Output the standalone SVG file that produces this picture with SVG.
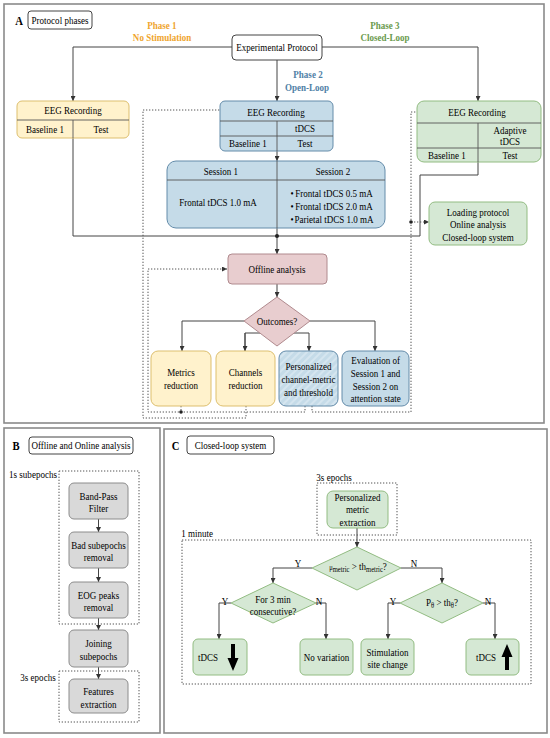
<svg xmlns="http://www.w3.org/2000/svg" width="550" height="738" viewBox="0 0 550 738">
<style>
text { font-family: "Liberation Serif", "Times New Roman", serif; font-size: 11px; fill: #000; text-anchor: middle; transform-box: fill-box; transform-origin: center; transform: scaleX(0.82); }
.b { font-weight: bold; font-size: 13px; }
.p1 { font-weight: bold; fill: #EFA52E; }
.p2 { font-weight: bold; fill: #4F7FA6; }
.p3 { font-weight: bold; fill: #6A9A4E; }
.panel { fill: #fff; stroke: #8a8a8a; stroke-width: 1.6; }
.lbl { fill: #fff; stroke: #444; stroke-width: 1; }
.yel { fill: #FFF2CC; stroke: #DDBF6E; stroke-width: 1; }
.blu { fill: #C5DBE8; stroke: #648CAA; stroke-width: 1; }
.grn { fill: #D5E8D4; stroke: #92BC82; stroke-width: 1; }
.pnk { fill: #E8CDCF; stroke: #B08A8E; stroke-width: 1; }
.gry { fill: #D9D9D9; stroke: #8C8C8C; stroke-width: 1; }
.sep { fill: none; stroke: #555; stroke-width: 0.9; }
.ln { fill: none; stroke: #444; stroke-width: 1; }
.dot { fill: none; stroke: #555; stroke-width: 1; stroke-dasharray: 1.3 1.7; }
</style>
<defs>
<marker id="ah" viewBox="0 0 6 6" refX="6" refY="3" markerWidth="5" markerHeight="5" markerUnits="userSpaceOnUse" orient="auto">
<path d="M0,0 L6,3 L0,6 z" fill="#333"/>
</marker>
<pattern id="hatch" width="5" height="5" patternUnits="userSpaceOnUse" patternTransform="rotate(45)">
<rect width="5" height="5" fill="#C5DBE8"/>
<line x1="1" y1="0" x2="1" y2="5" stroke="#DCEAF3" stroke-width="1.4"/>
</pattern>
</defs>

<!-- Panels -->
<rect class="panel" x="4" y="4" width="540" height="419"/>
<rect class="panel" x="4" y="428" width="156" height="305"/>
<rect class="panel" x="164" y="429" width="383" height="304"/>

<!-- Panel A header -->
<g id="panelA-label">
<text class="b" x="19" y="25">A</text>
<rect class="lbl" x="28" y="11" width="64" height="18" rx="3"/>
<text x="60" y="23.8">Protocol phases</text>
</g>
<g id="phase-labels">
<text class="p1" x="162" y="29.5">Phase 1</text>
<text class="p1" x="162" y="41.5">No Stimulation</text>
<text class="p2" x="308" y="78.5">Phase 2</text>
<text class="p2" x="307" y="91.5">Open-Loop</text>
<text class="p3" x="385" y="29.5">Phase 3</text>
<text class="p3" x="385" y="41.5">Closed-Loop</text>
</g>

<!-- Connectors -->
<g id="connectors">
<path class="ln" d="M232,47 H73 V101" marker-end="url(#ah)"/>
<path class="ln" d="M322,47 H478 V101" marker-end="url(#ah)"/>
<path class="ln" d="M277,60 V101" marker-end="url(#ah)"/>
<path class="ln" d="M277,151 V161" marker-end="url(#ah)"/>
<path class="ln" d="M73,138 V236 H420 V175 H478 V162"/>
<path class="ln" d="M277,228 V254" marker-end="url(#ah)"/>
<circle cx="277" cy="236" r="2" fill="#222"/>
<path class="ln" d="M277,284 V297" marker-end="url(#ah)"/>
<path class="ln" d="M244,321 H182 V351" marker-end="url(#ah)"/>
<path class="ln" d="M310,321 H375 V351" marker-end="url(#ah)"/>
<path class="ln" d="M245,351 V333 H309 V351" marker-end="url(#ah)"/>
<path class="ln" d="M245,333 V351" marker-end="url(#ah)"/>
<!-- dotted feedback -->
<path class="dot" d="M246,406 V418 H143 V110 H243" marker-end="url(#ah)"/>
<path class="dot" d="M305,406 V412 H148 V269 H227" marker-end="url(#ah)"/>
<path class="dot" d="M181,406 V412"/>
<circle cx="181" cy="412" r="1.8" fill="#222"/>
<path class="dot" d="M312,406 V412 H411 V112 H445" marker-end="url(#ah)"/>
<path class="dot" d="M411,222 H429" marker-end="url(#ah)"/>
<circle cx="411" cy="222" r="1.8" fill="#222"/>
<!-- panel B -->
<path class="ln" d="M98.5,519 V532" marker-end="url(#ah)"/>
<path class="ln" d="M98.5,568 V582" marker-end="url(#ah)"/>
<path class="ln" d="M98.5,618 V630" marker-end="url(#ah)"/>
<path class="ln" d="M98.5,667 V679" marker-end="url(#ah)"/>
<!-- panel C -->
<path class="ln" d="M357,528 V547" marker-end="url(#ah)"/>
<path class="ln" d="M312,568 H273 V583" marker-end="url(#ah)"/>
<path class="ln" d="M401,568 H442 V583" marker-end="url(#ah)"/>
<path class="ln" d="M231,603 H219 V639" marker-end="url(#ah)"/>
<path class="ln" d="M316,603 H326 V639" marker-end="url(#ah)"/>
<path class="ln" d="M400,603 H388 V639" marker-end="url(#ah)"/>
<path class="ln" d="M483,603 H495 V639" marker-end="url(#ah)"/>
</g>

<!-- Panel A nodes -->
<g id="exp-protocol">
<rect x="232" y="35" width="90" height="25" rx="4" fill="#fff" stroke="#444"/>
<text x="277" y="51.4">Experimental Protocol</text>
</g>
<g id="eeg-phase1">
<rect class="yel" x="17" y="101" width="112" height="37" rx="5"/>
<path class="sep" d="M17,120 H129 M73,120 V138"/>
<text x="73" y="114.2">EEG Recording</text>
<text x="45" y="132.8">Baseline 1</text>
<text x="101" y="132.8">Test</text>
</g>
<g id="eeg-phase2">
<rect class="blu" x="220" y="101" width="113" height="50" rx="5"/>
<path class="sep" d="M220,121 H333 M220,136 H333 M277,121 V151"/>
<text x="276" y="115.6">EEG Recording</text>
<text x="305" y="132.2">tDCS</text>
<text x="248" y="147.2">Baseline 1</text>
<text x="305" y="147.2">Test</text>
</g>
<g id="sessions">
<rect class="blu" x="167" y="161" width="218" height="67" rx="9"/>
<path class="sep" d="M167,180 H385 M277,161 V228"/>
<text x="221" y="174.6">Session 1</text>
<text x="333" y="174.6">Session 2</text>
<text x="218" y="205.8">Frontal tDCS 1.0 mA</text>
<text x="292" y="196.8">•</text>
<text x="292" y="209.8">•</text>
<text x="292" y="222.8">•</text>
<text x="334" y="196.8">Frontal tDCS 0.5 mA</text>
<text x="334" y="209.8">Frontal tDCS 2.0 mA</text>
<text x="334" y="222.8">Parietal tDCS 1.0 mA</text>
</g>
<g id="eeg-phase3">
<rect class="grn" x="417" y="101" width="124" height="61" rx="7"/>
<path class="sep" d="M417,123 H541 M417,148 H541 M478,123 V162"/>
<text x="477" y="116.4">EEG Recording</text>
<text x="510" y="133.8">Adaptive</text>
<text x="510" y="145.5">tDCS</text>
<text x="447" y="158.8">Baseline 1</text>
<text x="510" y="158.8">Test</text>
</g>
<g id="loading-protocol">
<rect class="grn" x="429" y="202" width="98" height="43" rx="6"/>
<text x="478" y="215.8">Loading protocol</text>
<text x="478" y="228.2">Online analysis</text>
<text x="478" y="240.6">Closed-loop system</text>
</g>
<g id="offline-analysis">
<rect class="pnk" x="228" y="254" width="99" height="30" rx="4"/>
<text x="277" y="272.8">Offline analysis</text>
</g>
<g id="outcomes">
<polygon class="pnk" points="277,297 310,321 277,346 244,321"/>
<text x="277" y="324.8">Outcomes?</text>
</g>
<g id="metrics-reduction">
<rect class="yel" x="151" y="351" width="60" height="55" rx="7"/>
<text x="181" y="376.2">Metrics</text>
<text x="181" y="389.2">reduction</text>
</g>
<g id="channels-reduction">
<rect class="yel" x="216" y="351" width="59" height="55" rx="7"/>
<text x="245.5" y="376.2">Channels</text>
<text x="245.5" y="389.2">reduction</text>
</g>
<g id="personalized">
<rect x="279" y="351" width="59" height="55" rx="7" fill="url(#hatch)" stroke="#648CAA"/>
<text x="308.5" y="370.2">Personalized</text>
<text x="308.5" y="383.2">channel-metric</text>
<text x="308.5" y="396.2">and threshold</text>
</g>
<g id="evaluation">
<rect class="blu" x="342" y="351" width="67" height="55" rx="7"/>
<text x="375.5" y="363.6">Evaluation of</text>
<text x="375.5" y="376.6">Session 1 and</text>
<text x="375.5" y="389.6">Session 2 on</text>
<text x="375.5" y="402.2">attention state</text>
</g>

<!-- Panel B -->
<g id="panelB-label">
<text class="b" x="16" y="450">B</text>
<rect class="lbl" x="29" y="437" width="104" height="17" rx="3"/>
<text x="81" y="449.2">Offline and Online analysis</text>
</g>
<g id="subepochs-group">
<rect class="dot" x="59" y="471" width="80" height="153"/>
<text x="33" y="477.6">1s subepochs</text>
</g>
<g id="epochs-group-B">
<rect class="dot" x="59" y="671" width="80" height="51"/>
<text x="38" y="680.8">3s epochs</text>
</g>
<g id="band-pass">
<rect class="gry" x="69" y="483" width="59" height="36" rx="5"/>
<text x="98.5" y="499.8">Band-Pass</text>
<text x="98.5" y="512.2">Filter</text>
</g>
<g id="bad-subepochs">
<rect class="gry" x="69" y="532" width="59" height="36" rx="5"/>
<text x="98.5" y="548.8">Bad subepochs</text>
<text x="98.5" y="561.2">removal</text>
</g>
<g id="eog-peaks">
<rect class="gry" x="69" y="582" width="59" height="36" rx="5"/>
<text x="98.5" y="598.8">EOG peaks</text>
<text x="98.5" y="611.2">removal</text>
</g>
<g id="joining">
<rect class="gry" x="69" y="630" width="59" height="37" rx="5"/>
<text x="98.5" y="646.8">Joining</text>
<text x="98.5" y="660.2">subepochs</text>
</g>
<g id="features">
<rect class="gry" x="69" y="679" width="59" height="34" rx="5"/>
<text x="98.5" y="694.8">Features</text>
<text x="98.5" y="707.8">extraction</text>
</g>

<!-- Panel C -->
<g id="panelC-label">
<text class="b" x="175.5" y="450">C</text>
<rect class="lbl" x="187" y="436" width="87" height="18" rx="3"/>
<text x="230.5" y="449.2">Closed-loop system</text>
</g>
<g id="epochs-group-C">
<rect class="dot" x="317" y="483" width="80" height="52"/>
<text x="334" y="480.8">3s epochs</text>
</g>
<g id="minute-group">
<rect class="dot" x="182" y="540" width="349" height="144"/>
<text x="197" y="536.8">1 minute</text>
</g>
<g id="metric-extraction">
<rect class="grn" x="327" y="491" width="61" height="37" rx="6"/>
<text x="357.5" y="500.8">Personalized</text>
<text x="357.5" y="513.2">metric</text>
<text x="357.5" y="525.6">extraction</text>
</g>
<g id="decision-metric">
<polygon class="grn" points="357,547 401,568 357,590 312,568"/>
<text x="358" y="570"><tspan font-size="8">μ</tspan><tspan font-size="8" dy="2">metric</tspan><tspan dy="-2"> &gt; th</tspan><tspan font-size="8" dy="2">metric</tspan><tspan dy="-2">?</tspan></text>
<text x="298" y="566.8">Y</text>
<text x="414" y="566.8">N</text>
</g>
<g id="decision-consecutive">
<polygon class="grn" points="273,583 316,603 273,623 231,603"/>
<text x="273" y="602.6">For 3 min</text>
<text x="273" y="615.2">consecutive?</text>
<text x="225" y="604.8">Y</text>
<text x="319" y="604.8">N</text>
</g>
<g id="decision-theta">
<polygon class="grn" points="442,583 483,603 442,623 400,603"/>
<text x="442" y="606">P<tspan font-size="8" dy="2">θ</tspan><tspan dy="-2"> &gt; th</tspan><tspan font-size="8" dy="2">θ</tspan><tspan dy="-2">?</tspan></text>
<text x="393" y="604.8">Y</text>
<text x="488" y="604.8">N</text>
</g>
<g id="tdcs-down">
<rect class="grn" x="193" y="639" width="54" height="36" rx="5"/>
<text x="208" y="661.2">tDCS</text>
<polygon points="231,644 235,644 235,658 238.5,658 233,671 227.5,658 231,658" fill="#000"/>
</g>
<g id="no-variation">
<rect class="grn" x="300" y="639" width="53" height="36" rx="5"/>
<text x="326.5" y="661.2">No variation</text>
</g>
<g id="stim-site">
<rect class="grn" x="361" y="639" width="53" height="36" rx="5"/>
<text x="387.5" y="655.6">Stimulation</text>
<text x="387.5" y="667.8">site change</text>
</g>
<g id="tdcs-up">
<rect class="grn" x="466" y="639" width="53" height="36" rx="5"/>
<text x="486" y="661.2">tDCS</text>
<polygon points="505,670 509,670 509,657 512.5,657 507,644 501.5,657 505,657" fill="#000"/>
</g>
</svg>
